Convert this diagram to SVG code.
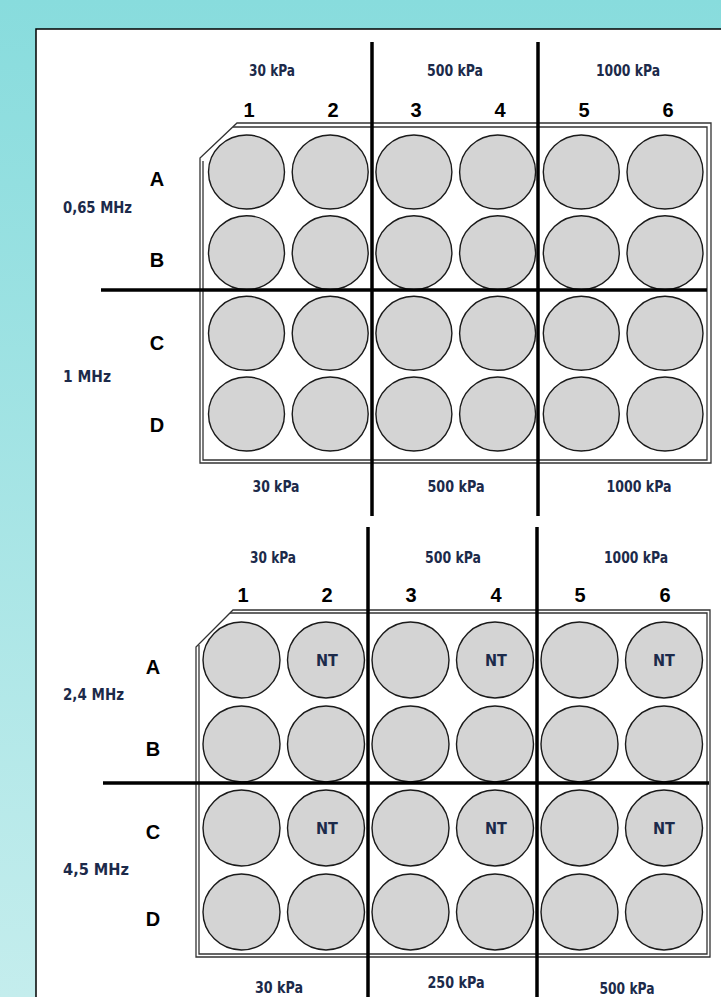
<svg xmlns="http://www.w3.org/2000/svg" width="721" height="997" viewBox="0 0 721 997">
<defs>
<linearGradient id="bg" x1="0" y1="0" x2="0" y2="1">
<stop offset="0" stop-color="#88dcdd"/>
<stop offset="1" stop-color="#c4eded"/>
</linearGradient>
</defs>
<style>
.lbl{font-family:"Liberation Sans Narrow","DejaVu Sans Condensed","Liberation Sans",sans-serif;font-weight:bold;font-size:16px;fill:#1c2a4a;text-anchor:middle}
.lft{font-family:"Liberation Sans Narrow","DejaVu Sans Condensed","Liberation Sans",sans-serif;font-weight:bold;font-size:16px;fill:#1c2a4a}
.num{font-family:"Liberation Sans",Arial,sans-serif;font-weight:bold;font-size:20px;fill:#000;text-anchor:middle}
.nt{font-family:"Liberation Sans Narrow","DejaVu Sans Condensed","Liberation Sans",sans-serif;font-weight:bold;font-size:16px;fill:#1c2a4a;text-anchor:middle}
.well{fill:#d4d4d4;stroke:#1a1a1a;stroke-width:1.4}
.plate{fill:none;stroke:#333;stroke-width:1.3}
.div{stroke:#000;stroke-width:3.5;fill:none}
</style>
<rect x="0" y="0" width="721" height="997" fill="url(#bg)"/>
<rect x="36" y="29" width="700" height="1000" fill="#fff" stroke="#000" stroke-width="1.5"/>

<g id="plate1">
<path class="plate" d="M237,123 L711,123 L711,463 L200,463 L200,158 Z" fill="#fff"/>
<path class="plate" d="M233,127 L707,127 L707,460 L203,460 L203,161"/>
<g id="plate1-wells">
<ellipse class="well" cx="246.5" cy="172" rx="38" ry="37"/>
<ellipse class="well" cx="330.2" cy="172" rx="38" ry="37"/>
<ellipse class="well" cx="413.9" cy="172" rx="38" ry="37"/>
<ellipse class="well" cx="497.6" cy="172" rx="38" ry="37"/>
<ellipse class="well" cx="581.3" cy="172" rx="38" ry="37"/>
<ellipse class="well" cx="665" cy="172" rx="38" ry="37"/>
<ellipse class="well" cx="246.5" cy="252.7" rx="38" ry="37"/>
<ellipse class="well" cx="330.2" cy="252.7" rx="38" ry="37"/>
<ellipse class="well" cx="413.9" cy="252.7" rx="38" ry="37"/>
<ellipse class="well" cx="497.6" cy="252.7" rx="38" ry="37"/>
<ellipse class="well" cx="581.3" cy="252.7" rx="38" ry="37"/>
<ellipse class="well" cx="665" cy="252.7" rx="38" ry="37"/>
<ellipse class="well" cx="246.5" cy="333.3" rx="38" ry="37"/>
<ellipse class="well" cx="330.2" cy="333.3" rx="38" ry="37"/>
<ellipse class="well" cx="413.9" cy="333.3" rx="38" ry="37"/>
<ellipse class="well" cx="497.6" cy="333.3" rx="38" ry="37"/>
<ellipse class="well" cx="581.3" cy="333.3" rx="38" ry="37"/>
<ellipse class="well" cx="665" cy="333.3" rx="38" ry="37"/>
<ellipse class="well" cx="246.5" cy="414" rx="38" ry="37"/>
<ellipse class="well" cx="330.2" cy="414" rx="38" ry="37"/>
<ellipse class="well" cx="413.9" cy="414" rx="38" ry="37"/>
<ellipse class="well" cx="497.6" cy="414" rx="38" ry="37"/>
<ellipse class="well" cx="581.3" cy="414" rx="38" ry="37"/>
<ellipse class="well" cx="665" cy="414" rx="38" ry="37"/>
</g>
<g id="plate1-labels">
<text class="lbl" x="272" y="76" textLength="46" lengthAdjust="spacingAndGlyphs">30 kPa</text>
<text class="lbl" x="455" y="76" textLength="56" lengthAdjust="spacingAndGlyphs">500 kPa</text>
<text class="lbl" x="628" y="76" textLength="64" lengthAdjust="spacingAndGlyphs">1000 kPa</text>
<text class="num" x="249" y="117">1</text>
<text class="num" x="333" y="117">2</text>
<text class="num" x="416" y="117">3</text>
<text class="num" x="500" y="117">4</text>
<text class="num" x="584" y="117">5</text>
<text class="num" x="668" y="117">6</text>
<text class="num" x="157" y="186">A</text>
<text class="num" x="157" y="267">B</text>
<text class="num" x="157" y="350">C</text>
<text class="num" x="157" y="432">D</text>
<text class="lft" x="63" y="213" textLength="69" lengthAdjust="spacingAndGlyphs">0,65 MHz</text>
<text class="lft" x="63" y="382" textLength="48" lengthAdjust="spacingAndGlyphs">1 MHz</text>
<text class="lbl" x="276" y="492" textLength="47" lengthAdjust="spacingAndGlyphs">30 kPa</text>
<text class="lbl" x="456" y="492" textLength="57" lengthAdjust="spacingAndGlyphs">500 kPa</text>
<text class="lbl" x="639" y="492" textLength="65" lengthAdjust="spacingAndGlyphs">1000 kPa</text>
</g>
</g>

<g id="plate2">
<path class="plate" d="M233,610 L710,610 L710,957 L196,957 L196,647 Z" fill="#fff"/>
<path class="plate" d="M230,613 L707,613 L707,954 L199,954 L199,645"/>
<g id="plate2-wells">
<ellipse class="well" cx="241.5" cy="660" rx="38.5" ry="38"/>
<ellipse class="well" cx="326" cy="660" rx="38.5" ry="38"/>
<ellipse class="well" cx="410.5" cy="660" rx="38.5" ry="38"/>
<ellipse class="well" cx="495" cy="660" rx="38.5" ry="38"/>
<ellipse class="well" cx="579.5" cy="660" rx="38.5" ry="38"/>
<ellipse class="well" cx="664" cy="660" rx="38.5" ry="38"/>
<ellipse class="well" cx="241.5" cy="744" rx="38.5" ry="38"/>
<ellipse class="well" cx="326" cy="744" rx="38.5" ry="38"/>
<ellipse class="well" cx="410.5" cy="744" rx="38.5" ry="38"/>
<ellipse class="well" cx="495" cy="744" rx="38.5" ry="38"/>
<ellipse class="well" cx="579.5" cy="744" rx="38.5" ry="38"/>
<ellipse class="well" cx="664" cy="744" rx="38.5" ry="38"/>
<ellipse class="well" cx="241.5" cy="828" rx="38.5" ry="38"/>
<ellipse class="well" cx="326" cy="828" rx="38.5" ry="38"/>
<ellipse class="well" cx="410.5" cy="828" rx="38.5" ry="38"/>
<ellipse class="well" cx="495" cy="828" rx="38.5" ry="38"/>
<ellipse class="well" cx="579.5" cy="828" rx="38.5" ry="38"/>
<ellipse class="well" cx="664" cy="828" rx="38.5" ry="38"/>
<ellipse class="well" cx="241.5" cy="912" rx="38.5" ry="38"/>
<ellipse class="well" cx="326" cy="912" rx="38.5" ry="38"/>
<ellipse class="well" cx="410.5" cy="912" rx="38.5" ry="38"/>
<ellipse class="well" cx="495" cy="912" rx="38.5" ry="38"/>
<ellipse class="well" cx="579.5" cy="912" rx="38.5" ry="38"/>
<ellipse class="well" cx="664" cy="912" rx="38.5" ry="38"/>
</g>
<g id="plate2-nt">
<text class="nt" x="327" y="666">NT</text>
<text class="nt" x="496" y="666">NT</text>
<text class="nt" x="664" y="666">NT</text>
<text class="nt" x="327" y="834">NT</text>
<text class="nt" x="496" y="834">NT</text>
<text class="nt" x="664" y="834">NT</text>
</g>
<g id="plate2-labels">
<text class="lbl" x="273" y="563" textLength="46" lengthAdjust="spacingAndGlyphs">30 kPa</text>
<text class="lbl" x="453" y="563" textLength="56" lengthAdjust="spacingAndGlyphs">500 kPa</text>
<text class="lbl" x="636" y="563" textLength="64" lengthAdjust="spacingAndGlyphs">1000 kPa</text>
<text class="num" x="243" y="602">1</text>
<text class="num" x="327" y="602">2</text>
<text class="num" x="411" y="602">3</text>
<text class="num" x="496" y="602">4</text>
<text class="num" x="580" y="602">5</text>
<text class="num" x="665" y="602">6</text>
<text class="num" x="153" y="674">A</text>
<text class="num" x="153" y="756">B</text>
<text class="num" x="153" y="839">C</text>
<text class="num" x="153" y="926">D</text>
<text class="lft" x="63" y="700" textLength="61" lengthAdjust="spacingAndGlyphs">2,4 MHz</text>
<text class="lft" x="63" y="875" textLength="66" lengthAdjust="spacingAndGlyphs">4,5 MHz</text>
<text class="lbl" x="279" y="993" textLength="48" lengthAdjust="spacingAndGlyphs">30 kPa</text>
<text class="lbl" x="456" y="988" textLength="57" lengthAdjust="spacingAndGlyphs">250 kPa</text>
<text class="lbl" x="627" y="994" textLength="55" lengthAdjust="spacingAndGlyphs">500 kPa</text>
</g>
</g>

<g id="dividers">
<line class="div" x1="372" y1="42" x2="372" y2="516"/>
<line class="div" x1="538" y1="42" x2="538" y2="516"/>
<line class="div" x1="101" y1="290" x2="707" y2="290"/>
<line class="div" x1="368" y1="527" x2="368" y2="997"/>
<line class="div" x1="537" y1="527" x2="537" y2="997"/>
<line class="div" x1="103" y1="783" x2="709" y2="783"/>
</g>
</svg>
